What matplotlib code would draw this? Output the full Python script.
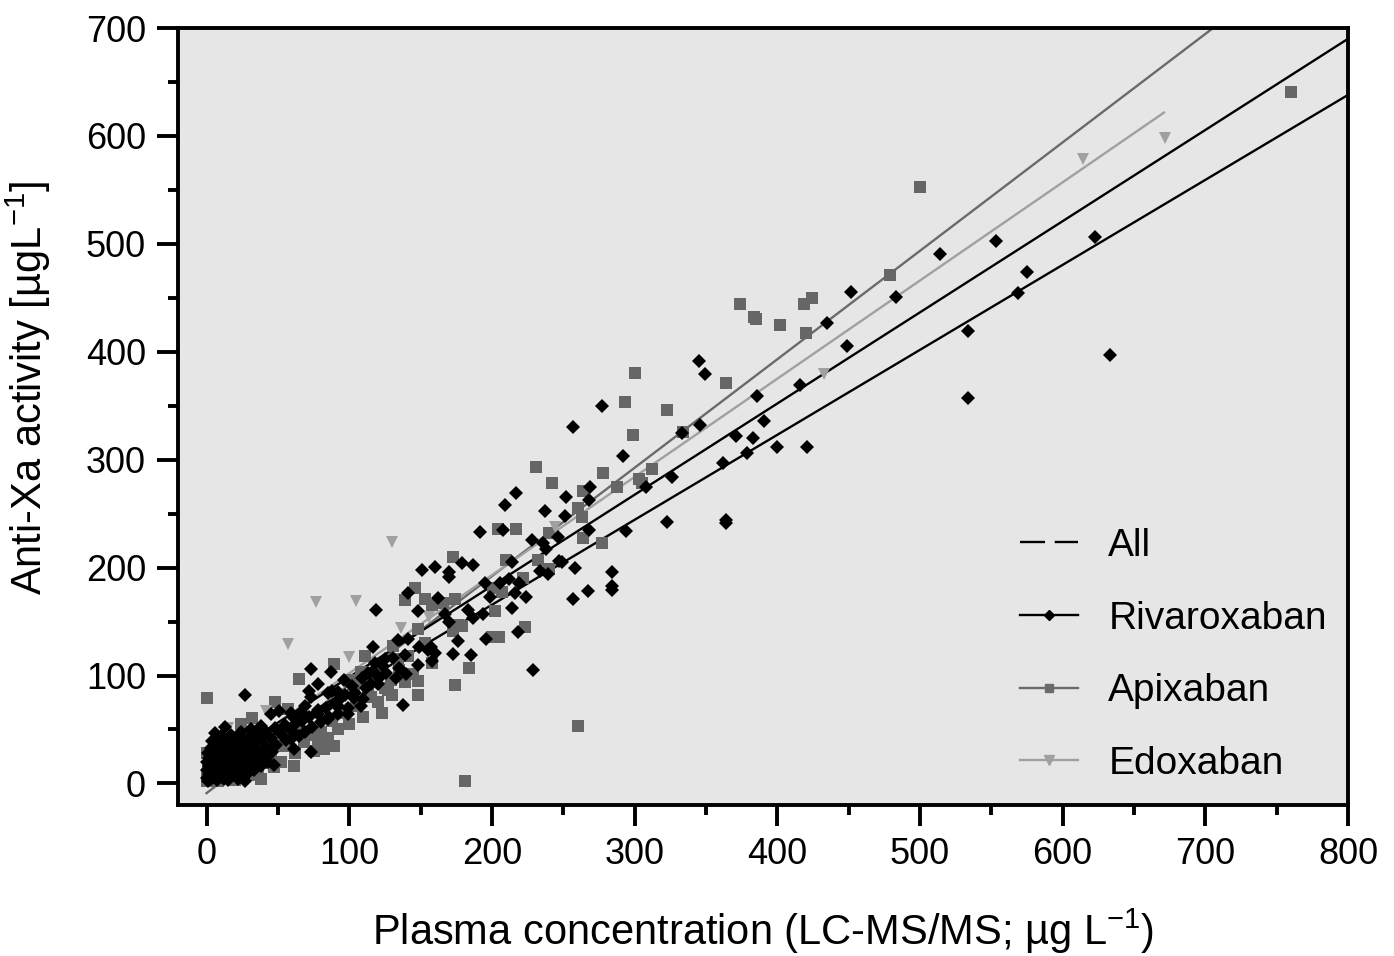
import matplotlib
matplotlib.use('Agg')
import matplotlib.pyplot as plt
from matplotlib.lines import Line2D
import numpy as np

plt.rcParams['font.family'] = ['Liberation Sans', 'DejaVu Sans']
plt.rcParams['mathtext.fontset'] = 'custom'
plt.rcParams['mathtext.rm'] = 'Liberation Sans'
plt.rcParams['mathtext.it'] = 'Liberation Sans:italic'
plt.rcParams['lines.scale_dashes'] = False

# Rivaroxaban (x = LC-MS/MS, y = anti-Xa)
riva = [
    (633, 397), (623, 506), (575, 474), (569, 454), (553, 503), (534, 419), (534, 357),
    (514, 491), (483, 451), (452, 455), (449, 405), (435, 427), (416, 369), (421, 312),
    (400, 312), (391, 336), (386, 359), (383, 320), (379, 306), (371, 322), (362, 297),
    (364, 244), (364, 241), (349, 379), (345, 391), (346, 332), (333, 325), (326, 284),
    (323, 242), (308, 275), (294, 234), (292, 303), (277, 350), (269, 275), (268, 263),
    (268, 235), (284, 196), (284, 183), (284, 179), (267, 178), (257, 330), (257, 171),
    (252, 265), (251, 248), (258, 200), (249, 205), (247, 206), (239, 194), (234, 197),
    (238, 217), (236, 223), (237, 252), (246, 228), (228, 226), (229, 105), (224, 173),
    (218, 140), (219, 186), (217, 269), (214, 205), (214, 163), (212, 189), (216, 176),
    (209, 258), (208, 235), (206, 186), (199, 173), (196, 134), (195, 186), (194, 157),
    (192, 233), (187, 202), (179, 204), (170, 196), (170, 191), (160, 201), (151, 198),
    (183, 161), (187, 153), (185, 119), (176, 132), (173, 120), (170, 150), (167, 157),
    (162, 172), (160, 121), (157, 126), (155, 124), (158, 113), (149, 126), (148, 160),
    (148, 110), (141, 176), (141, 134), (140, 101), (139, 119), (138, 73), (134, 133),
    (135, 107), (119, 161), (117, 126), (118, 112), (125, 115), (121, 98), (115, 92),
    (113, 102), (96, 96), (87, 103), (78, 92), (88, 86), (94, 81), (73, 106), (72, 86),
    (73, 80), (85, 84), (92, 85), (93, 77), (103, 79), (110, 78), (108, 72), (92, 72),
    (99, 64), (85, 60), (78, 64), (66, 66), (69, 72), (61, 61), (59, 65), (73, 29),
    (59, 41), (61, 32), (43, 27), (47, 17), (34, 16), (27, 14), (22, 4), (27, 2), (12, 4),
    (27, 82), (45, 64), (51, 67), (38, 53), (31, 50), (24, 48), (17, 45), (10, 44), (4, 39),
    (6, 47), (13, 52),
    (0, 5), (0, 12), (0, 20), (1, 28), (1, 2), (2, 9), (2, 16), (2, 24), (3, 33), (3, 4),
    (4, 13), (4, 20), (5, 27), (5, 8), (6, 35), (6, 16), (7, 3), (7, 22), (8, 11), (8, 30),
    (9, 18), (9, 40), (10, 6), (10, 25), (11, 14), (11, 33), (12, 21), (13, 9), (13, 38),
    (14, 28), (15, 16), (15, 3), (16, 34), (17, 22), (18, 10), (18, 41), (19, 28), (20, 17),
    (21, 36), (22, 8), (22, 24), (23, 43), (24, 31), (25, 15), (26, 38), (27, 24), (28, 8),
    (29, 33), (30, 19), (31, 44), (32, 27), (33, 12), (34, 37), (35, 22), (36, 46), (37, 30),
    (38, 16), (39, 40), (40, 25), (41, 49), (42, 34), (43, 20), (45, 42), (46, 29), (48, 51),
    (49, 36), (52, 46), (55, 54), (56, 40), (60, 49), (63, 56), (65, 44), (67, 58), (69, 48),
    (72, 62), (74, 52), (78, 68), (80, 57), (84, 70), (86, 62), (90, 74), (92, 64), (97, 82),
    (99, 70), (102, 90), (104, 84), (109, 98), (112, 88), (117, 104), (120, 92), (123, 110),
    (126, 102), (131, 116), (133, 98),
]

# Apixaban
apix = [
    (760, 641), (500, 553), (479, 471), (424, 450), (419, 444), (420, 417), (402, 425),
    (384, 432), (385, 430), (374, 444), (364, 371), (323, 346), (300, 380), (299, 323),
    (293, 353), (278, 288), (288, 275), (312, 291), (303, 282), (305, 278), (334, 326),
    (264, 271), (260, 255), (263, 247), (264, 227), (277, 223), (242, 278), (231, 293),
    (240, 232), (217, 236), (204, 236), (240, 199), (232, 207), (222, 190), (223, 145),
    (210, 207), (202, 160), (201, 181), (207, 177), (205, 136), (200, 136), (173, 210),
    (174, 171), (166, 167), (153, 171), (158, 165), (146, 181), (139, 170), (176, 147),
    (179, 146), (173, 141), (148, 143), (153, 130), (184, 107), (174, 91), (158, 112),
    (148, 82), (145, 101), (139, 94), (135, 105), (260, 53), (181, 2), (141, 118),
    (134, 115), (127, 87), (113, 86), (101, 96), (89, 111), (108, 103), (111, 118), (65, 97),
    (148, 95), (123, 65), (103, 90), (110, 93), (121, 106), (129, 96), (131, 127), (0, 79),
    (48, 75), (57, 69), (32, 61), (24, 55), (27, 44), (89, 35), (61, 16), (78, 39), (82, 32),
    (47, 35), (45, 27), (36, 11), (43, 19), (47, 15),
    (0, 2), (0, 8), (1, 15), (2, 22), (0, 28), (3, 5), (5, 12), (8, 2), (10, 18), (15, 8),
    (20, 3), (25, 30), (30, 8), (35, 25), (38, 4), (52, 20), (55, 35), (58, 45), (62, 28),
    (65, 52), (68, 38), (72, 45), (75, 30), (80, 48), (85, 42), (88, 58), (92, 50), (95, 65),
    (100, 55), (105, 72), (110, 62), (115, 80), (120, 75), (125, 88), (130, 82),
]

# Edoxaban
edox = [
    (672, 598), (614, 579), (433, 379), (244, 238), (156, 154), (136, 144), (130, 224),
    (105, 169), (77, 168), (57, 129), (100, 117), (42, 67), (15, 51),
]

# regression lines: (intercept, slope, x_end)
fit_all = (14, 0.845, 800)
fit_riva = (8, 0.7875, 800)
fit_apix = (-9, 1.005, 720)
fit_edox = (11, 0.91, 671)

c_riva = 'black'
c_apix = '#6a6a6a'
c_edox = '#a0a0a0'

fig = plt.figure(figsize=(13.94, 9.56), dpi=100)
ax = fig.add_axes([178/1394, 1-805/956, (1348-178)/1394, (805-28)/956])
ax.set_facecolor('#e6e6e6')

for (b, m, xe), c in [(fit_apix, c_apix), (fit_edox, c_edox), (fit_all, 'black'), (fit_riva, 'black')]:
    xs = np.array([0, xe])
    ax.plot(xs, b + m*xs, color=c, lw=1.7, zorder=2)

ax.plot(*zip(*apix), ls='none', marker='s', ms=8.5, color='#666666', mew=0, zorder=3)
ax.plot(*zip(*edox), ls='none', marker='v', ms=9, color=c_edox, mew=0, zorder=3)
ax.plot(*zip(*riva), ls='none', marker='D', ms=6.8, color=c_riva, mew=0, zorder=4)

ax.set_xlim(-20, 800)
ax.set_ylim(-20, 700)
ax.set_xticks(np.arange(0, 801, 100))
ax.set_yticks(np.arange(0, 701, 100))
ax.set_xticks(np.arange(50, 800, 100), minor=True)
ax.set_yticks(np.arange(50, 700, 100), minor=True)
ax.tick_params(which='major', direction='out', length=15, width=2.8, labelsize=26, pad=8)
ax.tick_params(which='minor', direction='out', length=7.5, width=2.8)
for s in ax.spines.values():
    s.set_linewidth(2.8)

ax.set_xlabel('Plasma concentration (LC-MS/MS; µg L$^{-1}$)', fontsize=30, labelpad=25)
ax.set_ylabel('Anti-Xa activity [µgL$^{-1}$]', fontsize=30)
ax.yaxis.set_label_coords(-0.107, 0.537)

handles = [
    Line2D([], [], color='black', lw=1.7, dashes=(18, 7)),
    Line2D([], [], color='black', lw=1.7, marker='D', ms=5),
    Line2D([], [], color=c_apix, lw=1.7, marker='s', ms=6),
    Line2D([], [], color=c_edox, lw=1.7, marker='v', ms=6.5),
]
ax.legend(handles, ['All', 'Rivaroxaban', 'Apixaban', 'Edoxaban'], loc='lower left',
          bbox_to_anchor=(0.7197, 0.030), frameon=False, fontsize=28, handlelength=1.5,
          handletextpad=0.77, labelspacing=0.94, borderpad=0, borderaxespad=0)

fig.savefig('out.png', dpi=100)
